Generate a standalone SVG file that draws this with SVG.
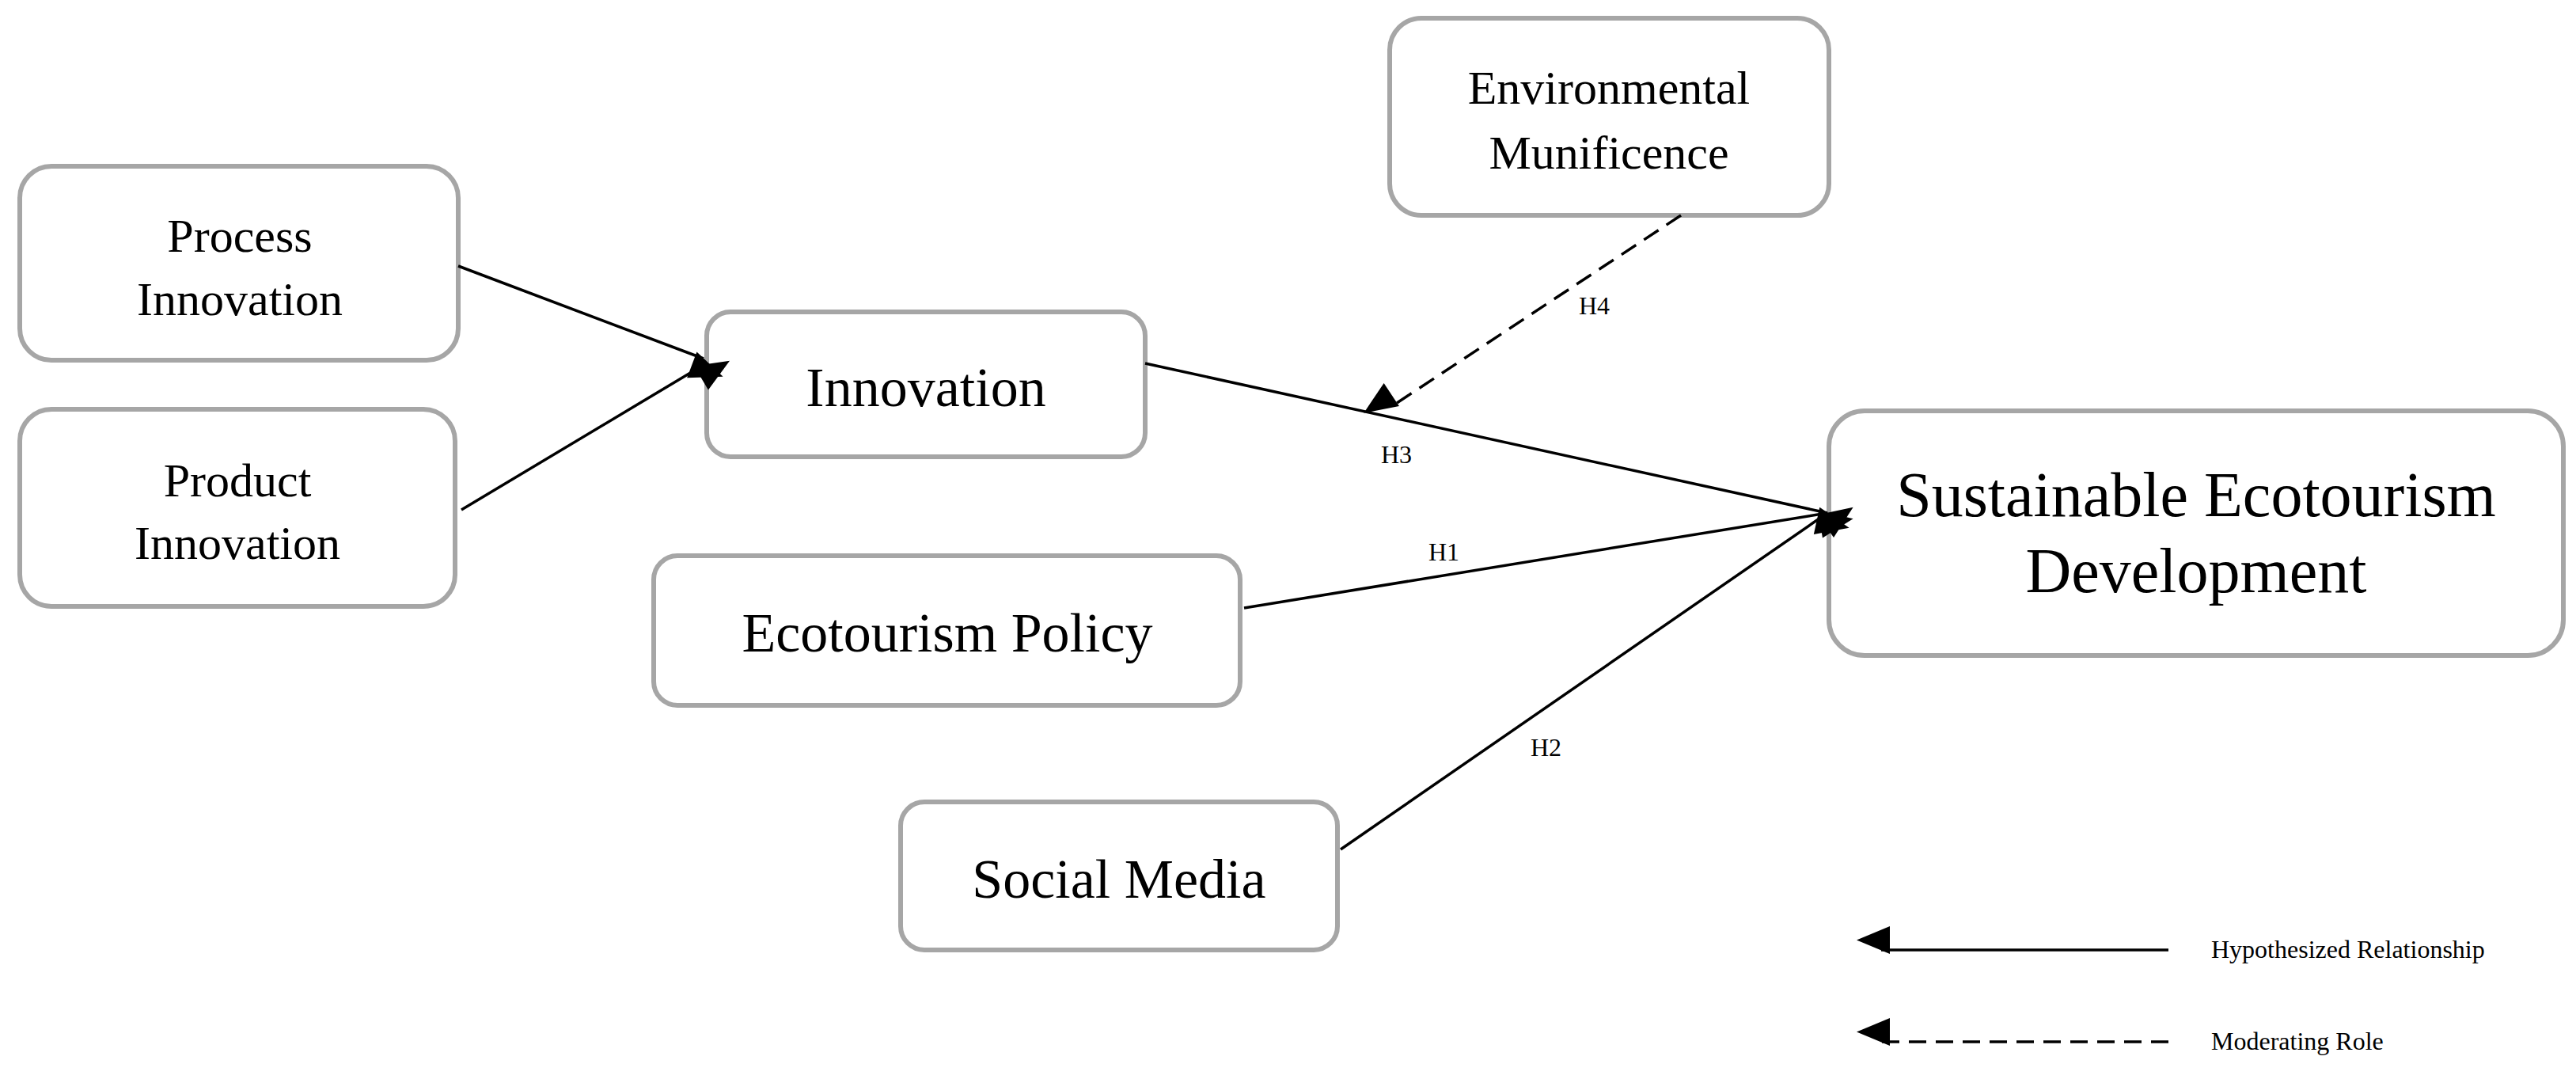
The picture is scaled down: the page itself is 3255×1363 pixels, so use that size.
<svg xmlns="http://www.w3.org/2000/svg" width="3255" height="1363" viewBox="0 0 3255 1363">
<style>
.n{fill:#fff;stroke:#a6a6a6;stroke-width:6}
.t{font-family:"Liberation Serif",serif;text-anchor:middle;fill:#000}
.e{stroke:#000;stroke-width:3.5;fill:none}
.l{font-family:"Liberation Serif",serif;font-size:32px;fill:#000}
</style>
<defs>
<marker id="a" markerWidth="12" markerHeight="10" refX="11" refY="5" orient="auto" markerUnits="userSpaceOnUse" viewBox="0 0 12 10" style="overflow:visible">
<path d="M0,0 L12,5 L0,10 Z" fill="#000" transform="scale(3.5)"/>
</marker>
</defs>
<rect width="3255" height="1363" fill="#fff"/>
<g id="process"><rect class="n" x="25" y="210" width="554" height="245" rx="40"/><text class="t" font-size="60" x="303" y="318">Process</text><text class="t" font-size="60" x="303" y="398">Innovation</text></g>
<g id="product"><rect class="n" x="25" y="517" width="550" height="249" rx="40"/><text class="t" font-size="60" x="300" y="627">Product</text><text class="t" font-size="60" x="300" y="706">Innovation</text></g>
<g id="innovation"><rect class="n" x="893" y="394" width="554" height="183" rx="30"/><text class="t" font-size="70" x="1170" y="513">Innovation</text></g>
<g id="env"><rect class="n" x="1756" y="23" width="555" height="249" rx="40"/><text class="t" font-size="60" x="2033" y="131">Environmental</text><text class="t" font-size="60" x="2033" y="213">Munificence</text></g>
<g id="policy"><rect class="n" x="826" y="702" width="741" height="189" rx="30"/><text class="t" font-size="70" x="1197" y="823">Ecotourism Policy</text></g>
<g id="social"><rect class="n" x="1138" y="1013" width="552" height="187" rx="30"/><text class="t" font-size="70" x="1414" y="1134">Social Media</text></g>
<g id="sed"><rect class="n" x="2311" y="519" width="928" height="309" rx="45"/><text class="t" font-size="80" x="2775" y="652">Sustainable Ecotourism</text><text class="t" font-size="80" x="2775" y="748">Development</text></g>
<g id="connectors">
<line class="e" x1="579" y1="336" x2="889" y2="453" marker-end="url(#a)"/>
<line class="e" x1="583" y1="644" x2="889" y2="461" marker-end="url(#a)"/>
<line class="e" x1="1447" y1="459" x2="2309" y2="648" marker-end="url(#a)"/>
<line class="e" x1="1572" y1="768" x2="2309" y2="648" marker-end="url(#a)"/>
<line class="e" x1="1694" y1="1073" x2="2309" y2="648" marker-end="url(#a)"/>
<line class="e" x1="2124" y1="272" x2="1756" y2="515" stroke-dasharray="22,12" marker-end="url(#a)"/>
<text class="l" x="1995" y="397">H4</text>
<text class="l" x="1745" y="585">H3</text>
<text class="l" x="1805" y="708">H1</text>
<text class="l" x="1934" y="955">H2</text>
<line class="e" x1="2740" y1="1200" x2="2377" y2="1200" marker-end="url(#a)"/>
<line class="e" x1="2740" y1="1316" x2="2377" y2="1316" stroke-dasharray="22,12" marker-end="url(#a)"/>
<text class="l" x="2794" y="1210">Hypothesized Relationship</text>
<text class="l" x="2794" y="1326">Moderating Role</text>
</g>
</svg>
